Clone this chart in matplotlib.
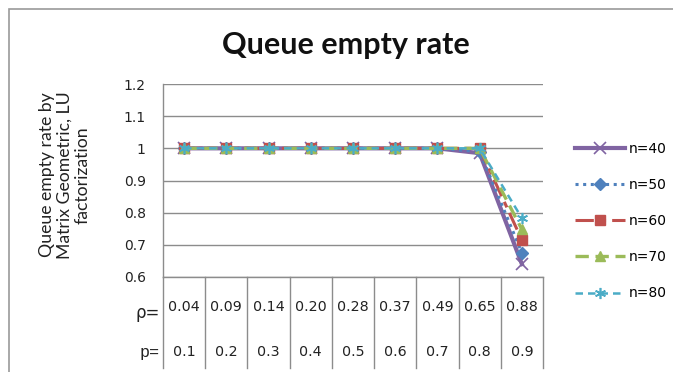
import matplotlib
matplotlib.use("Agg")
import matplotlib.pyplot as plt
import matplotlib.transforms as mtransforms
from matplotlib.patches import Rectangle

# Arrival probability p and the resulting load rho for each case
p_labels = ["0.1", "0.2", "0.3", "0.4", "0.5", "0.6", "0.7", "0.8", "0.9"]
rho_labels = ["0.04", "0.09", "0.14", "0.20", "0.28", "0.37", "0.49", "0.65", "0.88"]

# Queue empty rate for each buffer size n
n40 = [1.0, 1.0, 1.0, 1.0, 1.0, 1.0, 1.0, 0.985, 0.64]
n50 = [1.0, 1.0, 1.0, 1.0, 1.0, 1.0, 1.0, 0.99, 0.675]
n60 = [1.0, 1.0, 1.0, 1.0, 1.0, 1.0, 1.0, 1.0, 0.715]
n70 = [1.0, 1.0, 1.0, 1.0, 1.0, 1.0, 1.0, 1.0, 0.748]
n80 = [1.0, 1.0, 1.0, 1.0, 1.0, 1.0, 1.0, 1.0, 0.783]

y_ticks = [0.6, 0.7, 0.8, 0.9, 1.0, 1.1, 1.2]

series = [
    ("n=40", n40, dict(color="#8064A2", linestyle="-", linewidth=3.0, marker="x",
                       markersize=8, markeredgewidth=1.2)),
    ("n=50", n50, dict(color="#4F81BD", linestyle=(0, (1, 1.5)), linewidth=2.2, marker="D",
                       markersize=6)),
    ("n=60", n60, dict(color="#C0504D", linestyle=(0, (6, 2, 2, 2)), linewidth=2.2, marker="s",
                       markersize=7.5)),
    ("n=70", n70, dict(color="#9BBB59", linestyle=(0, (4, 2)), linewidth=2.4, marker="^",
                       markersize=7.5)),
    ("n=80", n80, dict(color="#4BACC6", linestyle=(0, (3, 2)), linewidth=1.8, marker=(6, 2, 0),
                       markersize=8, markeredgewidth=1.2)),
]

W, H, DPI = 673, 372, 100
fig = plt.figure(figsize=(W / DPI, H / DPI), dpi=DPI)
fig.patch.set_facecolor("white")

# Chart frame
fig.patches.append(Rectangle((9 / W, -0.1), 1.2, 1 - 8.5 / H + 0.1, transform=fig.transFigure,
                             fill=False, edgecolor="#9a9a9a", linewidth=1.2))

left, right = 163 / W, 543 / W
bottom, top = 1 - 277 / H, 1 - 84 / H
ax = fig.add_axes([left, bottom, right - left, top - bottom])

x = list(range(len(p_labels)))
for name, vals, style in series:
    ax.plot(x, vals, label=name, markeredgecolor=style["color"], clip_on=False, **style)

ax.set_xlim(-0.5, len(p_labels) - 0.5)
ax.set_ylim(0.6, 1.2)
ax.set_yticks(y_ticks)
ax.set_yticklabels([f"{v:g}" for v in y_ticks])
ax.set_xticks([])
ax.yaxis.grid(True, color="#8c8c8c", linewidth=1.0)
ax.set_axisbelow(True)
for s in ["top", "right"]:
    ax.spines[s].set_visible(False)
for s in ["left", "bottom"]:
    ax.spines[s].set_color("#8c8c8c")
    ax.spines[s].set_linewidth(1.0)
ax.tick_params(axis="y", length=0, pad=12.5, labelsize=10, labelcolor="#222222")

# Data table under the plot area
trans = mtransforms.blended_transform_factory(ax.transData, ax.transAxes)
tab_bottom = -91 / 193
for b in [i - 0.5 for i in range(len(p_labels) + 1)]:
    ax.plot([b, b], [0, tab_bottom], transform=trans, color="#8c8c8c", linewidth=1.0,
            clip_on=False)
rho_y = -30 / 193
p_y = -75 / 193
for i in x:
    ax.text(i, rho_y, rho_labels[i], transform=trans, ha="center", va="center",
            fontsize=10.3, color="#222222")
    ax.text(i, p_y, p_labels[i], transform=trans, ha="center", va="center",
            fontsize=10.3, color="#222222")
ax.text(-0.58, rho_y - 0.03, "ρ=", transform=trans, ha="right", va="center",
        fontsize=12, color="#222222")
ax.text(-0.58, p_y, "p=", transform=trans, ha="right", va="center",
        fontsize=12, family="Liberation Mono", color="#222222")

fig.text(65 / W, 1 - 175 / H, "Queue empty rate by\nMatrix Geometric, LU\nfactorization",
         rotation=90, ha="center", va="center", multialignment="center", family="Lato",
         fontsize=12.7, linespacing=1.15, color="#222222")

fig.text(346 / W, 1 - 45 / H, "Queue empty rate", ha="center", va="center",
         family="Lato", fontweight="bold", fontsize=22, color="#111111")

fig.legend(loc="center left", bbox_to_anchor=(569 / W, 1 - 221 / H), frameon=False,
           handlelength=3.6, handletextpad=0.3, labelspacing=1.6, fontsize=10,
           borderaxespad=0)

fig.savefig("out.png", dpi=DPI, facecolor="white")
